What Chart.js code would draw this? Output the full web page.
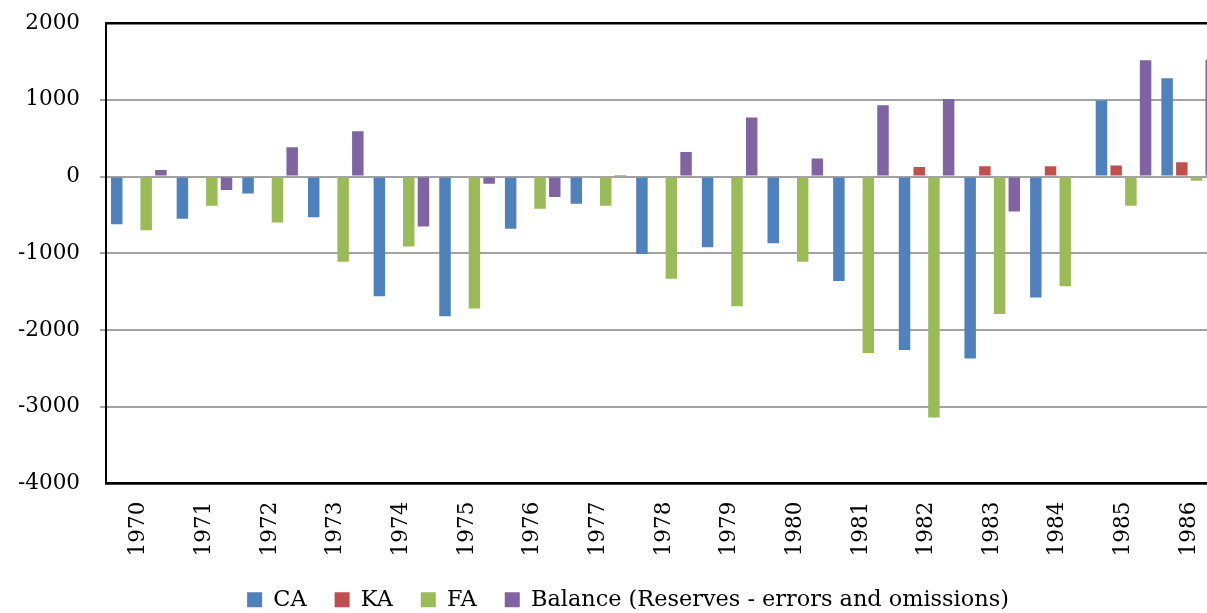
<!DOCTYPE html>
<html><head><meta charset="utf-8">
<script src="https://cdn.jsdelivr.net/npm/chart.js@4/dist/chart.umd.min.js"></script>
<style>
html,body{margin:0;padding:0;background:#fff;overflow:hidden;}
#wrap{width:1207px;height:613px;overflow:hidden;position:relative;background:#fff;}
#box{width:1258px;height:621px;position:absolute;left:0;top:0;}
</style></head><body>
<div id="wrap"><div id="box"><canvas id="c" width="1258" height="621"></canvas></div></div>
<script>
const years = ['1970','1971','1972','1973','1974','1975','1976','1977','1978','1979','1980','1981','1982','1983','1984','1985','1986'];
const CA  = [-620,-550,-220,-530,-1560,-1820,-680,-355,-1010,-920,-870,-1360,-2260,-2370,-1575,990,1280];
const KA  = [0,0,0,0,0,0,0,0,0,0,0,0,125,135,135,145,185];
const FA  = [-700,-380,-600,-1110,-910,-1720,-420,-380,-1330,-1690,-1110,-2300,-3140,-1790,-1430,-380,-55];
const BAL = [85,-175,380,590,-650,-95,-265,20,320,770,235,930,1010,-455,0,1515,1520];
const yTicks = [-4000,-3000,-2000,-1000,0,1000,2000];
const seriesNames = ['CA','KA','FA','Balance (Reserves - errors and omissions)'];

Chart.defaults.font.family = "'DejaVu Serif', serif";
Chart.defaults.color = '#000';

const isEdge = v => v === yTicks[0] || v === yTicks[yTicks.length-1];

const legendShift = {
  id: 'legendShift',
  afterLayout(chart) {
    const l = chart.legend;
    if (l) { l.left += 17; l.right += 17; }
  }
};

new Chart(document.getElementById('c'), {
  type: 'bar',
  data: {
    labels: years,
    datasets: [
      {label: seriesNames[0], data: CA,  backgroundColor: '#4F81BD'},
      {label: seriesNames[1], data: KA,  backgroundColor: '#C0504D'},
      {label: seriesNames[2], data: FA,  backgroundColor: '#9BBB59'},
      {label: seriesNames[3], data: BAL, backgroundColor: '#8064A2'}
    ]
  },
  plugins: [legendShift],
  options: {
    responsive: false,
    animation: false,
    datasets: { bar: { categoryPercentage: 0.896, barPercentage: 0.78 } },
    layout: { padding: { left: 0, right: 36, top: 23, bottom: 0 } },
    plugins: {
      tooltip: { enabled: false },
      legend: {
        position: 'bottom',
        labels: {
          boxWidth: 15, boxHeight: 15, padding: 28,
          font: { size: 22.4 }, color: '#000'
        }
      }
    },
    scales: {
      x: {
        grid: { display: false, drawTicks: false },
        border: { display: true, color: '#000', width: 2.5 },
        ticks: { minRotation: 90, maxRotation: 90, autoSkip: false, padding: 18, font: { size: 21.5 }, color: '#000' },
        afterFit: s => { s.height = 77; }
      },
      y: {
        min: yTicks[0], max: yTicks[yTicks.length-1],
        afterBuildTicks: s => { s.ticks = yTicks.map(v => ({value: v})); },
        grid: {
          color: c => (c.tick && isEdge(c.tick.value)) ? '#000' : '#a3a3a3',
          lineWidth: c => (c.tick && isEdge(c.tick.value)) ? 2.5 : 2,
          tickColor: c => (c.tick && isEdge(c.tick.value)) ? 'rgba(0,0,0,0)' : '#a3a3a3',
          tickLength: 6, drawTicks: true
        },
        border: { display: true, color: '#000', width: 2 },
        ticks: { padding: 20, font: { size: 21.5 }, color: '#000', callback: v => String(v) },
        afterFit: s => { s.width = 106; s.paddingTop = 12; s.paddingBottom = 12; }
      }
    }
  }
});
</script>
</body></html>
